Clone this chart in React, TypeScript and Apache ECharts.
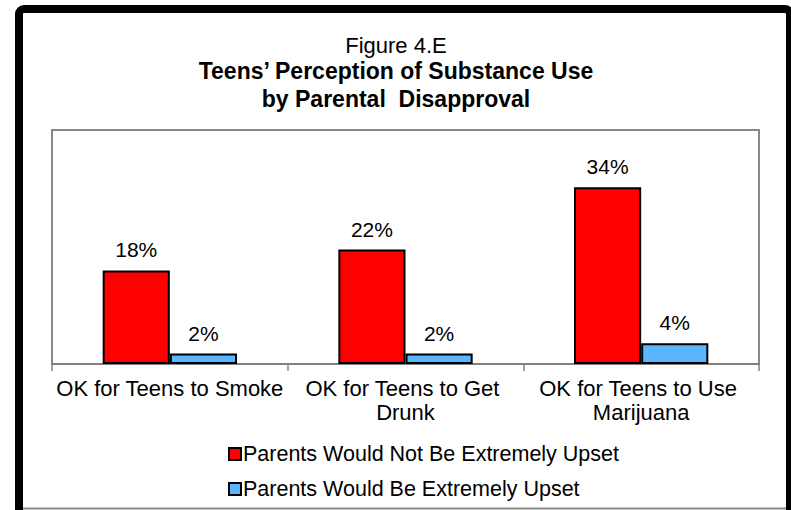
import React, { useEffect, useRef } from "react";
import * as echarts from "echarts";

const categories = [
  "OK for Teens to Smoke",
  "OK for Teens to Get Drunk",
  "OK for Teens to Use Marijuana",
];
const seriesNames = [
  "Parents Would Not Be Extremely Upset",
  "Parents Would Be Extremely Upset",
];
const notUpset = [18, 22, 34];
const upset = [2, 2, 4];
const figureLabel = "Figure 4.E";
const titleText = "Teens\u2019 Perception of Substance Use\nby Parental  Disapproval";

const FONT = "'Liberation Sans', Arial, Helvetica, sans-serif";

export default function App() {
  const ref = useRef<HTMLDivElement>(null);
  useEffect(() => {
    if (!ref.current) return;
    const chart = echarts.init(ref.current, undefined, { renderer: "svg" });
    const label = {
      show: true,
      position: "top",
      distance: 10,
      formatter: "{c}%",
      fontFamily: FONT,
      fontSize: 21,
      color: "#000",
    };
    chart.setOption({
      animation: false,
      backgroundColor: "#fff",
      textStyle: { fontFamily: FONT },
      legend: {
        orient: "vertical",
        left: 228,
        top: 442,
        itemWidth: 12,
        itemHeight: 12,
        itemGap: 11,
        icon: "rect",
        padding: 0,
        textStyle: { fontFamily: FONT, fontSize: 21.5, color: "#000", lineHeight: 24, padding: [0, 0, 0, -3] },
        data: seriesNames,
      },
      grid: {
        left: 52,
        top: 130,
        right: 32,
        bottom: 146,
        show: true,
        borderColor: "#888",
        borderWidth: 2,
        backgroundColor: "#fff",
      },
      xAxis: {
        type: "category",
        data: categories,
        axisLine: { lineStyle: { color: "#808080", width: 2 } },
        axisTick: { show: true, length: 7, lineStyle: { color: "#808080", width: 1.5 } },
        axisLabel: {
          interval: 0,
          margin: 12,
          fontFamily: FONT,
          fontSize: 22,
          lineHeight: 24,
          color: "#000",
          width: 234,
          overflow: "break",
        },
      },
      yAxis: { type: "value", min: 0, max: 45, show: false, splitLine: { show: false } },
      series: [
        {
          name: seriesNames[0],
          type: "bar",
          data: notUpset,
          barGap: "0%",
          barCategoryGap: "43%",
          itemStyle: { color: "#FF0000", borderColor: "#000", borderWidth: 2 },
          label,
        },
        {
          name: seriesNames[1],
          type: "bar",
          data: upset,
          barGap: "0%",
          barCategoryGap: "43%",
          itemStyle: { color: "#5AB7FF", borderColor: "#000", borderWidth: 2 },
          label,
        },
      ],
      graphic: [
        {
          type: "text",
          x: 396,
          y: 34,
          style: {
            text: figureLabel,
            fontFamily: FONT,
            fontSize: 22,
            fill: "#000",
            align: "center",
            verticalAlign: "top",
          },
        },
        {
          type: "text",
          x: 396,
          y: 57,
          style: {
            text: titleText,
            fontFamily: FONT,
            fontSize: 23,
            fontWeight: "bold",
            lineHeight: 28,
            fill: "#000",
            align: "center",
            verticalAlign: "top",
          },
        },
        {
          type: "line",
          shape: { x1: 23, y1: 508.5, x2: 786, y2: 508.5 },
          style: { stroke: "#888", lineWidth: 2 },
          z: 10,
        },
        {
          type: "rect",
          shape: { x: 19, y: 9, width: 771, height: 520, r: 5 },
          style: { fill: "none", stroke: "#000", lineWidth: 8 },
          z: 10,
        },
      ],
    });
    return () => chart.dispose();
  }, []);
  return (
    <div
      ref={ref}
      style={{ position: "fixed", left: 0, top: 0, width: 791, height: 510 }}
    />
  );
}
